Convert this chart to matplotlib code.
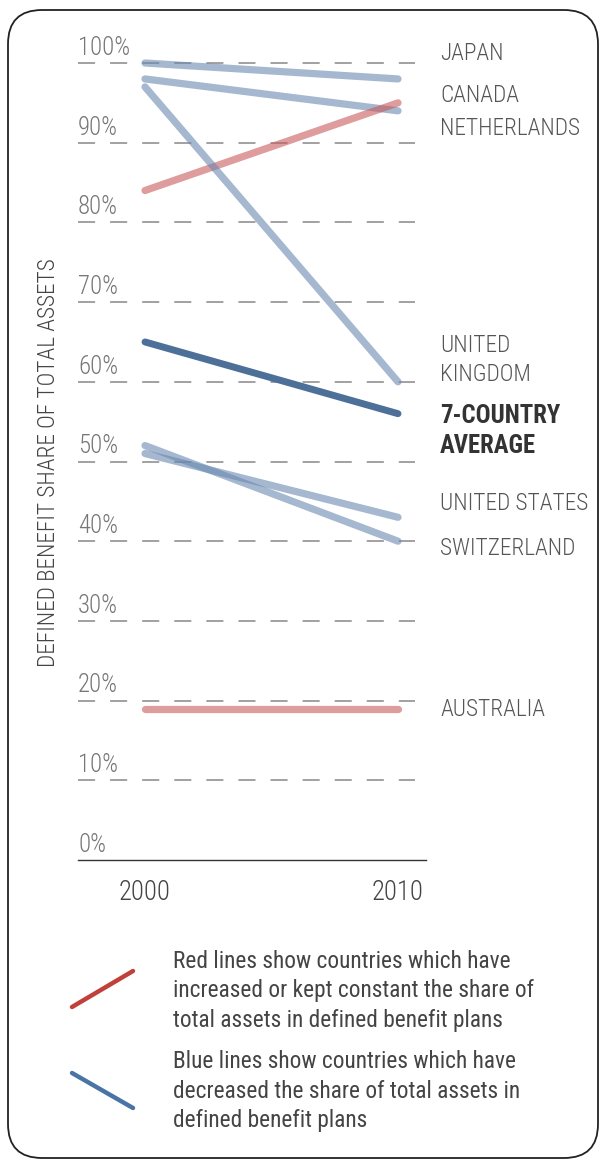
import os
import matplotlib
matplotlib.use("Agg")
import matplotlib.pyplot as plt
import matplotlib.font_manager as fm
from matplotlib.patches import FancyBboxPatch
from matplotlib.transforms import IdentityTransform
from matplotlib.lines import Line2D
from matplotlib.font_manager import FontProperties

# ---------------- data ----------------
years = [2000, 2010]
countries = ["Japan", "Canada", "Netherlands", "United Kingdom", "7-Country Average",
             "United States", "Switzerland", "Australia"]
share_2000 = [100, 98, 84, 97, 65, 51, 52, 19]
share_2010 = [98, 94, 95, 60, 56, 43, 40, 19]
kind = ["down", "down", "up", "down", "avg", "down", "down", "up"]
ytick_values = [0, 10, 20, 30, 40, 50, 60, 70, 80, 90, 100]
ytick_labels = [f"{v}%" for v in ytick_values]
xtick_labels = ["2000", "2010"]
end_labels = ["JAPAN", "CANADA", "NETHERLANDS", "UNITED\nKINGDOM", "7-COUNTRY\nAVERAGE",
              "UNITED STATES", "SWITZERLAND", "AUSTRALIA"]
end_label_y_px = [53, 95, 128, 360, 431, 503, 548, 709]
ylabel = "DEFINED BENEFIT SHARE OF TOTAL ASSETS"
legend_texts = ["Red lines show countries which have\nincreased or kept constant the share of\ntotal assets in defined benefit plans",
                "Blue lines show countries which have\ndecreased the share of total assets in\ndefined benefit plans"]

plt.rcParams["lines.scale_dashes"] = False

W, H = 600, 1160
fig = plt.figure(figsize=(W / 100, H / 100), dpi=100)
renderer = fig.canvas.get_renderer()


# ---------------- fonts: look for a condensed face ----------------
def find_condensed(style):
    prefs = ["roboto", "opensans", "open_sans", "notosans", "dejavu", "liberation"]
    found = []
    for f in fm.fontManager.ttflist:
        base = os.path.basename(f.fname).lower().replace(" ", "")
        if not ("condensed" in base or "narrow" in base):
            continue
        if any(k in base for k in ("extracondensed", "semicondensed", "ultracondensed",
                                   "italic", "oblique")):
            continue
        if style == "light":
            ok = "light" in base and not any(k in base for k in ("extralight", "ultralight"))
        elif style == "bold":
            ok = "bold" in base and not any(k in base for k in ("semibold", "extrabold", "ultrabold", "demibold"))
        else:
            ok = not any(k in base for k in ("light", "bold", "medium", "black", "thin", "heavy"))
        if not ok:
            continue
        rank = next((i for i, p in enumerate(prefs) if p in base), len(prefs))
        found.append((rank, f.fname))
    if found:
        found.sort()
        return FontProperties(fname=found[0][1])
    return None


fp_light = find_condensed("light") or find_condensed("regular") or \
    FontProperties(family=["Lato", "DejaVu Sans"], weight="light")
fp_reg = find_condensed("regular") or FontProperties(family=["Lato", "DejaVu Sans"])
fp_bold = find_condensed("bold") or FontProperties(family=["Lato", "DejaVu Sans"], weight="bold")


def fit_size(s, fp, target_px, base=20.0):
    t = fig.text(0, 0, s, fontproperties=fp, fontsize=base)
    w = t.get_window_extent(renderer).width
    t.remove()
    return base * target_px / w


fs_country = fit_size("NETHERLANDS", fp_light, 140)
fs_bold = fit_size("7-COUNTRY", fp_bold, 120)
fs_ytick = fit_size("100%", fp_light, 52)
fs_xtick = fit_size("2000", fp_light, 52)
fs_ylabel = fit_size(ylabel, fp_light, 410)
fs_legend = fit_size("increased or kept constant the share of", fp_reg, 360)


def fx(px):
    return px / W


def fy(py):
    return 1 - py / H


# axes: x from 78 to 426 px, y: 0% at 860 px, 100% at 63 px
ax_left, ax_right = 78, 426
y0_px = 860
px_per_pct = 7.97
ymax = 103
ax_top = y0_px - ymax * px_per_pct
ax = fig.add_axes([fx(ax_left), fy(y0_px), (ax_right - ax_left) / W, (y0_px - ax_top) / H])
ppy = (398 - 145) / 10.0
ax.set_xlim(2000 - (145 - ax_left) / ppy, 2010 + (ax_right - 398) / ppy)
ax.set_ylim(0, ymax)

for s in ["top", "right", "left"]:
    ax.spines[s].set_visible(False)
ax.spines["bottom"].set_color("#333333")
ax.spines["bottom"].set_linewidth(1.0)
ax.set_yticks([])
ax.set_xticks(years)
ax.set_xticklabels(xtick_labels, fontproperties=fp_light, fontsize=fs_xtick, color="#444444")
ax.tick_params(axis="x", length=0, pad=14)

# gridlines and y labels
grid_end = 2010 + (415 - 398) / ppy
x_left = ax.get_xlim()[0]
for v, lab in zip(ytick_values, ytick_labels):
    if v > 0:
        ax.plot([x_left, grid_end], [v, v], color="#9a9a9a", lw=1.3,
                linestyle=(0, (12.3, 10.8)), zorder=1, dash_capstyle="butt")
    ax.text(x_left, v + 0.4, lab, ha="left", va="bottom", fontproperties=fp_light,
            fontsize=fs_ytick, color="#777777")

colors = {"up": ("#c85a5a", 0.6, 5.2), "down": ("#6989b1", 0.6, 5.2), "avg": ("#4d70997", 1.0, 5.0)}
colors["avg"] = ("#4d7099", 1.0, 5.0)
for c, a, b, k in zip(countries, share_2000, share_2010, kind):
    col, al, lw = colors[k]
    ax.plot(years, [a, b], color=col, alpha=al, lw=lw, solid_capstyle="round",
            zorder=4 if k == "avg" else 3)

for lab, ypx, k in zip(end_labels, end_label_y_px, kind):
    if k == "avg":
        fig.text(fx(440), fy(ypx), lab, ha="left", va="center", fontproperties=fp_bold,
                 fontsize=fs_bold, color="#333333", linespacing=1.3)
    else:
        fig.text(fx(440), fy(ypx), lab, ha="left", va="center", fontproperties=fp_light,
                 fontsize=fs_country, color="#555555", linespacing=1.3)

fig.text(fx(48), fy(463), ylabel, rotation=90, ha="center", va="center",
         fontproperties=fp_light, fontsize=fs_ylabel, color="#444444")

# legend
fig.add_artist(Line2D([fx(72), fx(133)], [fy(1007), fy(971)], color="#c0403a", lw=3.2,
                      solid_capstyle="round", transform=fig.transFigure))
fig.add_artist(Line2D([fx(72), fx(133)], [fy(1073), fy(1108)], color="#4a74a5", lw=3.2,
                      solid_capstyle="round", transform=fig.transFigure))
fig.text(fx(173), fy(991), legend_texts[0], ha="left", va="center", fontproperties=fp_reg,
         fontsize=fs_legend, color="#444444", linespacing=1.35)
fig.text(fx(173), fy(1091), legend_texts[1], ha="left", va="center", fontproperties=fp_reg,
         fontsize=fs_legend, color="#444444", linespacing=1.35)

# rounded frame
box = FancyBboxPatch((8, 2), 590, 1148, boxstyle="round,pad=0,rounding_size=34",
                     transform=IdentityTransform(), facecolor="none", edgecolor="#222222",
                     lw=1.3, zorder=10)
fig.patches.append(box)

fig.savefig("out.png", dpi=100)
